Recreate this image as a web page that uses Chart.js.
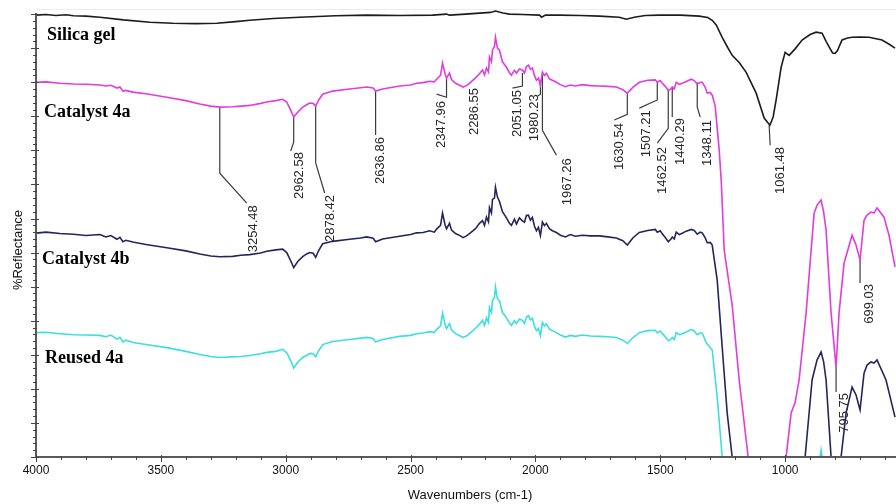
<!DOCTYPE html>
<html><head><meta charset="utf-8">
<script src="https://cdn.jsdelivr.net/npm/chart.js@4.4.1/dist/chart.umd.min.js"></script>
<style>html,body{margin:0;padding:0;background:#fff;overflow:hidden}#wrap{width:896px;height:504px}</style>
</head><body><div id="wrap"><canvas id="c" width="896" height="504"></canvas></div>
<script>
// ---------------- data (wavenumber cm-1, %Reflectance, arbitrary offsets as in the figure) -------------
const silicaWN = [4000,3960,3920,3880,3850,3800,3744,3650,3544,3452,3360,3276,3200,3144,3050,2944,2800,2676,2540,2412,2356,2344,2280,2224,2180,2160,2130,2104,2050,1984,1975,1960,1904,1820,1744,1664,1636,1604,1560,1504,1420,1344,1310,1292,1276,1252,1230,1212,1184,1156,1116,1084,1061,1048,1036,1016,1000,984,960,932,900,876,852,836,824,810,800,790,784,772,750,732,700,664,612,580,560];
const silicaR  = [129.7,129.9,129.6,129.8,129.5,129.4,129.1,128.3,127.6,127.3,127.2,127.3,127.8,128.2,128.7,129.1,129.5,129.7,129.6,129.7,130.0,129.7,130.0,130.3,130.5,130.9,130.3,130.0,129.9,129.7,129.1,129.7,129.7,129.6,129.4,129.1,128.5,129.1,129.6,129.7,129.7,129.4,129.0,128.2,126.8,123.2,120.2,117.9,115.8,112.9,106.8,99.5,97.4,99.8,104.8,114.4,118.8,117.9,119.8,122.4,124.0,124.7,124.4,122.0,120.4,118.6,118.5,119.3,120.4,122.4,123.0,123.2,123.3,123.2,122.4,121.0,120.0];

const cat4aWN = [4000,3960,3904,3850,3800,3744,3720,3700,3676,3664,3652,3640,3612,3560,3476,3400,3344,3300,3264,3212,3180,3144,3100,3076,3040,3012,2996,2980,2968,2952,2932,2916,2904,2890,2880,2868,2852,2812,2744,2700,2676,2650,2640,2612,2544,2500,2476,2450,2424,2405,2396,2380,2372,2362,2356,2344,2336,2320,2300,2290,2276,2264,2240,2224,2212,2204,2196,2188,2184,2176,2172,2164,2160,2152,2144,2132,2116,2104,2096,2084,2076,2064,2052,2044,2036,2028,2020,2012,2004,1996,1988,1980,1972,1964,1956,1944,1932,1916,1900,1880,1860,1840,1812,1780,1744,1710,1676,1650,1632,1610,1584,1550,1520,1512,1500,1492,1480,1468,1458,1452,1444,1436,1424,1412,1396,1376,1364,1352,1340,1332,1320,1312,1300,1292,1280,1264,1256,1244,1212,1184,1148,1120,1030,996,976,960,944,916,884,872,856,846,836,816,796,784,764,748,732,716,700,684,672,656,644,632,604,584,560];
const cat4aR  = [110.0,110.1,109.7,109.5,109.4,109.2,108.9,109.1,108.3,108.6,107.4,107.6,107.1,106.6,105.6,104.6,103.6,103.0,102.7,102.8,103.0,103.2,103.8,104.2,104.6,105.0,104.2,101.8,99.8,101.2,102.7,103.4,103.9,103.8,103.0,104.8,106.5,107.4,108.0,108.4,108.6,108.3,107.4,108.0,108.9,109.2,109.7,109.9,110.3,110.1,110.9,112.0,115.6,112.5,111.2,112.7,110.8,109.7,109.0,108.6,109.0,109.7,111.3,112.5,113.6,112.2,114.2,113.0,117.4,116.0,119.4,120.5,123.2,120.0,119.4,116.0,114.4,112.8,112.1,113.5,112.7,113.9,113.6,112.7,114.6,115.0,113.8,114.2,112.0,110.6,111.2,109.2,113.0,112.0,112.6,111.0,110.6,110.0,109.3,108.7,109.2,108.9,109.3,109.0,108.9,108.8,108.6,107.8,106.8,108.5,110.0,110.6,110.7,110.0,110.5,109.7,108.8,107.6,108.0,108.6,108.0,110.0,109.4,109.7,110.2,110.9,110.5,109.4,110.0,110.0,108.5,106.8,107.0,106.2,103.0,90.1,81.3,60.7,44.6,22.6,0,-15,-15,0,12.9,16.0,22.6,42.3,71.6,73.9,75.4,72.0,66.6,42.3,26.4,42.3,56.9,61.0,65.1,62.2,57.8,69.5,71.0,71.9,71.6,73.1,70.4,65.1,55.8];

const cat4bWN = [4000,3960,3904,3850,3800,3744,3720,3700,3676,3664,3652,3640,3612,3560,3476,3400,3344,3300,3264,3212,3180,3144,3100,3076,3040,3012,2996,2980,2968,2952,2932,2916,2904,2890,2880,2868,2852,2812,2744,2700,2676,2650,2640,2612,2544,2500,2476,2450,2424,2405,2396,2380,2372,2362,2356,2344,2336,2320,2300,2290,2276,2264,2240,2224,2212,2204,2196,2188,2184,2176,2172,2164,2160,2152,2144,2132,2116,2104,2096,2084,2076,2064,2052,2044,2036,2028,2020,2012,2004,1996,1988,1980,1972,1964,1956,1944,1932,1916,1900,1880,1860,1840,1812,1780,1744,1710,1676,1650,1632,1610,1584,1550,1520,1512,1500,1492,1480,1468,1458,1452,1444,1436,1424,1412,1396,1376,1364,1352,1340,1332,1320,1312,1300,1292,1272,1252,1232,1212,1190,940,920,892,872,856,846,836,816,800,790,776,756,732,716,700,684,672,656,644,632,596,560];
const cat4bR  = [65.7,66.0,65.6,65.4,65.0,65.3,64.6,65.0,63.9,64.5,63.2,63.6,63.1,62.4,61.4,60.5,59.6,59.0,58.8,58.9,59.2,59.4,59.9,60.4,60.8,61.0,60.0,57.6,55.6,57.4,58.8,59.6,60.0,59.8,58.6,60.6,62.6,63.3,63.9,64.3,64.6,64.2,63.2,64.0,64.8,65.3,65.8,65.9,66.4,66.0,66.9,68.0,71.6,68.2,67.0,68.6,66.6,65.6,64.9,64.4,64.9,65.6,67.0,68.6,69.4,68.0,70.4,69.0,73.2,71.6,75.6,76.0,79.2,76.3,75.0,72.0,70.2,68.6,68.0,69.8,68.4,70.2,69.3,68.9,70.9,71.0,69.5,70.3,67.8,66.4,67.4,65.0,69.0,67.9,68.6,67.0,66.4,65.9,65.1,64.6,65.3,64.8,65.1,64.9,64.9,64.6,64.3,63.5,62.2,64.3,65.9,66.5,66.8,66.0,66.4,65.5,64.4,63.2,63.9,64.6,64.0,66.0,65.3,65.7,66.3,66.8,66.5,65.4,66.0,65.8,64.3,62.9,63.0,62.2,51.9,32.3,12.9,0,-15,-15,0,22.6,28.5,30.8,28.0,22.6,0,-12,-12,0,12.9,20.5,18.2,13.8,24.6,27.0,27.9,27.6,28.5,22.6,11.7];

const reusedWN = [4000,3960,3904,3850,3800,3744,3720,3700,3676,3664,3652,3640,3612,3560,3476,3400,3344,3300,3264,3212,3180,3144,3100,3076,3040,3012,2996,2980,2968,2952,2932,2916,2904,2890,2880,2868,2852,2812,2744,2700,2676,2650,2640,2612,2544,2500,2476,2450,2424,2405,2396,2380,2372,2362,2356,2344,2336,2320,2300,2290,2276,2264,2240,2224,2212,2204,2196,2188,2184,2176,2172,2164,2160,2152,2144,2132,2116,2104,2096,2084,2076,2064,2052,2044,2036,2028,2020,2012,2004,1996,1988,1980,1972,1964,1956,1944,1932,1916,1900,1880,1860,1840,1812,1780,1744,1710,1676,1650,1632,1610,1584,1550,1520,1512,1500,1492,1480,1468,1458,1452,1444,1436,1424,1412,1396,1376,1364,1352,1340,1332,1316,1292,1272,1252,1230,880,866,856,846,830,560];
const reusedR  = [36.5,36.6,36.2,35.9,35.8,35.7,35.3,35.8,34.6,35.1,33.8,34.3,33.6,33.0,32.1,31.0,30.1,29.5,29.2,29.4,29.5,29.8,30.3,30.7,31.0,31.6,30.6,28.3,26.1,27.8,29.2,29.8,30.4,30.3,29.4,31.2,33.0,33.9,34.5,34.9,35.1,34.8,33.8,34.5,35.4,35.7,36.2,36.4,36.8,36.5,37.4,38.5,42.2,38.9,37.7,39.2,37.3,36.2,35.5,35.1,35.5,36.2,37.8,39.0,40.1,38.6,40.8,39.5,43.9,42.4,45.9,46.8,49.9,46.4,45.9,42.4,40.9,39.3,38.6,40.0,39.2,40.5,40.1,39.2,41.1,41.5,40.3,40.7,38.4,37.1,37.7,35.6,39.5,38.4,39.1,37.5,37.1,36.5,35.8,35.2,35.7,35.4,35.8,35.5,35.4,35.3,35.1,34.3,33.3,35.0,36.5,37.1,37.2,36.5,37.0,36.2,35.3,34.1,34.5,35.1,34.5,36.5,35.9,36.2,36.7,37.4,37.0,35.9,36.4,36.4,33.5,31.4,17.6,0,-15,-15,-3,2.0,-3,-15,-15];

const seriesNames = ['Silica gel','Catalyst 4a','Catalyst 4b','Reused 4a'];
const xTickLabels = [4000,3500,3000,2500,2000,1500,1000];

const peakLabels = ['3254.48','2962.58','2878.42','2636.86','2347.96','2286.55','2051.05','1980.23','1967.26','1630.54','1507.21','1462.52','1440.29','1348.11','1061.48','795.75','699.03'];
// leader lines, in (wavenumber, value) units
const peakLeaders = [
 [[3264,102.7],[3264,83.3],[3156,74.5]],
 [[2968,99.8],[2968,92.4],[2980,89.8]],
 [[2880,103.0],[2880,86.3],[2844,77.5]],
 [[2640,107.4],[2640,94.5]],
 [[2356,111.2],[2356,105.6],[2396,106.5]],
 [],
 [[2052,112.7],[2052,108.9],[2092,108.3]],
 [[1980,110.6],[1980,106.5],[1992,105.9]],
 [[1972,112.1],[1972,95.9],[1916,88.6]],
 [[1632,106.8],[1632,100.6],[1684,98.9]],
 [[1512,110.0],[1512,104.8],[1584,102.4]],
 [[1468,107.7],[1468,96.5],[1512,92.1]],
 [[1452,108.3],[1452,99.8]],
 [[1352,110.0],[1352,102.7],[1340,99.8]],
 [[1064,97.4],[1060,91.5]],
 [[796,26.4],[796,19.1]],
 [[700,57.8],[700,51.1]]
];
const peakTextAt = [[3128,73.9],[2944,89.5],[2820,76.9],[2620,93.9],[2376,104.5],[2244,108.3],[2072,107.7],[2004,106.5],[1872,87.7],[1664,98.0],[1556,101.8],[1492,91.0],[1420,99.5],[1312,98.9],[1020,91.0],[764,18.8],[664,50.8]];
const nameAt = [[3956,122.4],[3968,99.8],[3976,56.6],[3964,27.6]];

// ---------------- chart -------------
const zip = (a, b) => a.map((w, i) => ({x: w, y: b[i]}));
const colors = ['#1c1c1c', '#e03ce0', '#25255c', '#3ddede'];
const seriesData = [zip(silicaWN, silicaR), zip(cat4aWN, cat4aR), zip(cat4bWN, cat4bR), zip(reusedWN, reusedR)];

const SANS = '"Liberation Sans", Arial, sans-serif';
const deco = {
  id: 'deco',
  beforeDatasetsDraw(chart) {
    const {ctx, chartArea: ca, scales: {x, y}} = chart;
    ctx.save();
    ctx.strokeStyle = '#ececec'; ctx.lineWidth = 1;
    ctx.beginPath(); ctx.moveTo(ca.left, ca.top + 0.5); ctx.lineTo(ca.right, ca.top + 0.5); ctx.stroke();
    ctx.strokeStyle = '#3c3c3c'; ctx.lineWidth = 1.2;
    peakLeaders.forEach(pts => {
      if (!pts.length) return;
      ctx.beginPath();
      pts.forEach((p, j) => {
        const px = x.getPixelForValue(p[0]), py = y.getPixelForValue(p[1]);
        j ? ctx.lineTo(px, py) : ctx.moveTo(px, py);
      });
      ctx.stroke();
    });
    ctx.fillStyle = '#262626'; ctx.font = '13px ' + SANS;
    ctx.textAlign = 'right'; ctx.textBaseline = 'middle';
    peakLabels.forEach((t, i) => {
      const a = peakTextAt[i];
      ctx.save();
      ctx.translate(x.getPixelForValue(a[0]), y.getPixelForValue(a[1]));
      ctx.rotate(-Math.PI / 2);
      ctx.fillText(t, 0, 0);
      ctx.restore();
    });
    ctx.restore();
  },
  afterDraw(chart) {
    const {ctx, chartArea: ca, scales: {x, y}} = chart;
    ctx.save();
    // axis lines
    ctx.strokeStyle = '#5a5a5a'; ctx.lineWidth = 2;
    ctx.beginPath();
    ctx.moveTo(ca.left, ca.top + 4); ctx.lineTo(ca.left, ca.bottom); ctx.lineTo(ca.right, ca.bottom);
    ctx.stroke();
    // ticks
    ctx.lineWidth = 1; ctx.strokeStyle = '#444';
    ctx.beginPath();
    for (let w = 4000; w >= 600; w -= 100) {
      const px = Math.round(x.getPixelForValue(w)) + 0.5;
      const major = w % 500 === 0;
      ctx.moveTo(px, ca.bottom - (major ? 2 : 1)); ctx.lineTo(px, ca.bottom + (major ? 5 : 3));
    }
    for (let v = 0; v <= 130; v += 2) {
      const py = Math.round(y.getPixelForValue(v)) + 0.5;
      const major = v % 10 === 0;
      ctx.moveTo(ca.left - (major ? 5 : 3), py); ctx.lineTo(ca.left + (major ? 3 : 1), py);
    }
    ctx.stroke();
    // axis titles
    ctx.fillStyle = '#111'; ctx.font = '13px ' + SANS;
    ctx.textAlign = 'center'; ctx.textBaseline = 'middle';
    ctx.fillText('Wavenumbers (cm-1)', 470, 495);
    ctx.save(); ctx.translate(18, 250); ctx.rotate(-Math.PI / 2); ctx.fillText('%Reflectance', 0, 0); ctx.restore();
    // series names
    ctx.font = 'bold 18px "Liberation Serif", "Times New Roman", serif';
    ctx.textAlign = 'left'; ctx.textBaseline = 'alphabetic'; ctx.fillStyle = '#000';
    seriesNames.forEach((n, i) => {
      ctx.fillText(n, x.getPixelForValue(nameAt[i][0]), y.getPixelForValue(nameAt[i][1]));
    });
    ctx.restore();
  }
};

new Chart(document.getElementById('c'), {
  type: 'line',
  data: {
    datasets: seriesNames.map((n, i) => ({
      label: n, data: seriesData[i], borderColor: colors[i], borderWidth: 1.6,
      pointRadius: 0, tension: 0, fill: false
    }))
  },
  options: {
    responsive: false, animation: false, devicePixelRatio: 1,
    layout: {padding: {top: 9, right: 0, left: 0, bottom: 0}},
    plugins: {legend: {display: false}, tooltip: {enabled: false}},
    scales: {
      x: {
        type: 'linear', reverse: true, min: 556, max: 4000,
        grid: {display: false, drawTicks: false}, border: {display: false},
        afterBuildTicks: s => { s.ticks = xTickLabels.map(v => ({value: v})); },
        ticks: {
          autoSkip: false, maxRotation: 0, padding: 6,
          color: '#111', font: {family: SANS, size: 12},
          callback: v => String(Math.round(v))
        },
        afterFit: s => { s.height = 47; s.paddingLeft = 0; s.paddingRight = 0; }
      },
      y: {
        min: 0, max: 131.5,
        grid: {display: false}, border: {display: false},
        ticks: {display: false, stepSize: 10},
        afterFit: s => { s.width = 36; s.paddingTop = 0; s.paddingBottom = 0; }
      }
    }
  },
  plugins: [deco]
});
</script></body></html>
